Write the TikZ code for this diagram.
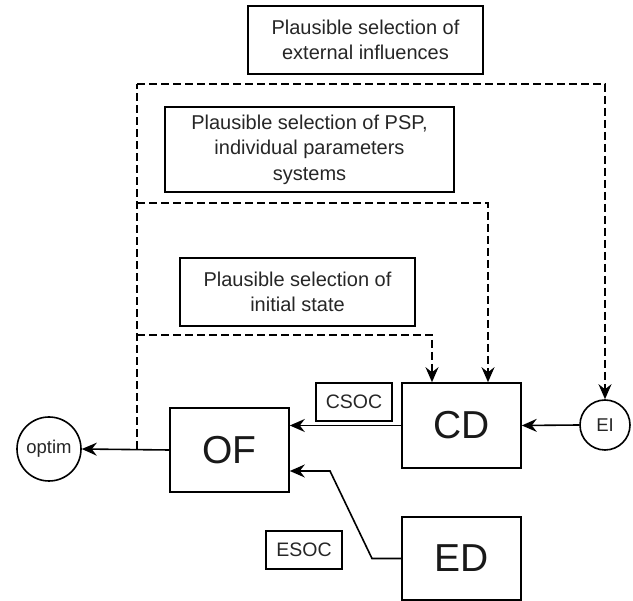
\documentclass[tikz,border=0pt]{standalone}
\usepackage{fontspec}
\setmainfont{Liberation Sans}
\usetikzlibrary{arrows.meta,calc}
\begin{document}
\begin{tikzpicture}[x=1pt,y=-1pt,
  line width=1.6pt,
  tip/.style={-{Stealth[length=15pt,width=13pt,inset=5pt]}},
  dashline/.style={dash pattern=on 8pt off 4pt},
  label box/.style={draw,rectangle,align=center,font=\fontsize{20}{25.5}\selectfont,text=black!85,inner sep=0pt},
  big box/.style={draw,rectangle,font=\fontsize{39}{42}\selectfont,text=black!90,inner sep=0pt,minimum width=119pt},
  small box/.style={draw,rectangle,font=\fontsize{19.5}{22}\selectfont,text=black!85,inner sep=0pt,minimum width=76pt,minimum height=38pt},
  round/.style={draw,circle,inner sep=0pt,font=\fontsize{18.5}{20}\selectfont,text=black!85}]
\useasboundingbox (0,0) rectangle (633,601);
% selection boxes
\node[label box,minimum width=235pt,minimum height=68pt] (ext) at (365.5,40) {Plausible selection of\\external influences};
\node[label box,minimum width=289pt,minimum height=85pt] (psp) at (309.5,149.5) {Plausible selection of PSP,\\individual parameters\\systems};
\node[label box,minimum width=235pt,minimum height=68pt] (init) at (297.5,292) {Plausible selection of\\initial state};
% main nodes
\node[round,minimum size=64pt] (optim) at (49,449) {optim};
\node[big box,minimum height=84pt] (OF) at (229.5,450) {OF};
\node[big box,minimum height=85pt] (CD) at (461.5,425.5) {CD};
\node[big box,minimum height=83pt] (ED) at (461.5,558.5) {ED};
\node[round,minimum size=50pt] (EI) at (605,425) {EI};
\node[small box] (csoc) at (354,402) {CSOC};
\node[small box] (esoc) at (304,550) {ESOC};
% dashed feed lines
\coordinate (j) at (137,449);
\coordinate (t1) at (137,84);
\coordinate (t2) at (137,203);
\coordinate (t3) at (137,335);
\draw[dashline] (j) -- (t1);
\draw[dashline,tip] (t1) -| (EI.north);
\draw[dashline,tip] (t2) -| ([xshift=26.5pt]CD.north);
\draw[dashline,tip] (t3) -| ([xshift=-29.5pt]CD.north);
% solid connectors
\draw[tip] (OF.west) -- (optim.east);
\draw[tip] (CD.west) -- (CD.west -| OF.east);
\draw[tip] (EI.west) -- (CD.east);
\coordinate (e1) at (372,558.5);
\coordinate (e2) at (330,471);
\draw[tip] (ED.west) -- (e1) -- (e2) -- (e2 -| OF.east);
\end{tikzpicture}
\end{document}
